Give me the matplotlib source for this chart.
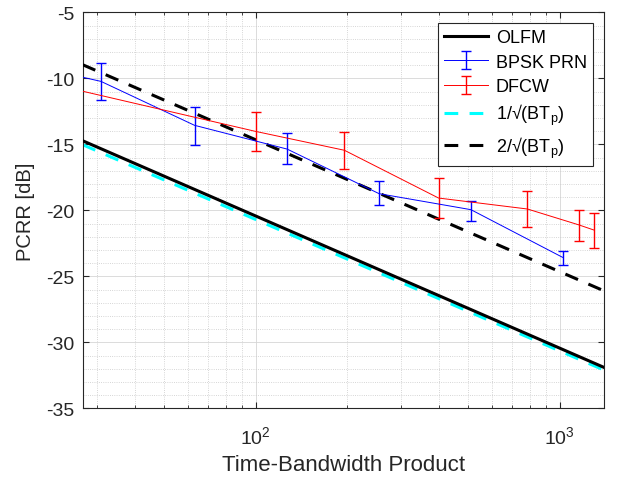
import numpy as np
import matplotlib.pyplot as plt
from matplotlib.ticker import MultipleLocator, LogLocator, NullFormatter

plt.rcParams['font.family'] = ['Liberation Sans', 'DejaVu Sans']
plt.rcParams['mathtext.fontset'] = 'custom'
plt.rcParams['mathtext.rm'] = 'Liberation Sans'
plt.rcParams['mathtext.it'] = 'Liberation Sans'
plt.rcParams['axes.unicode_minus'] = False

# Datos
bt_teo = [27, 1400]
olfm = [-14.73, -31.9]
teo_1 = [-15.03, -32.1]
teo_2 = [-8.97, -26.1]

bt_bpsk = [15, 31, 63, 127, 255, 511, 1023]
bpsk = [-8.6, -10.23, -13.56, -15.36, -18.74, -19.95, -23.56]
bpsk_sup = [-7.4, -8.86, -12.15, -14.17, -17.80, -19.32, -23.10]
bpsk_inf = [-9.8, -11.64, -15.08, -16.52, -19.60, -20.79, -24.14]

bt_dfcw = [25, 100, 196, 400, 784, 1156, 1296]
dfcw = [-10.80, -14.02, -15.45, -19.07, -19.90, -21.10, -21.49]
dfcw_sup = [-9.4, -12.58, -14.05, -17.58, -18.54, -19.95, -20.23]
dfcw_inf = [-12.2, -15.53, -16.89, -20.58, -21.24, -22.35, -22.83]

fig = plt.figure(figsize=(6.23, 4.81), dpi=100)
ax = fig.add_axes([0.1327, 0.149, 0.8368, 0.8233])

dash = (0, (4.5, 3.7))

h_olfm, = ax.plot(bt_teo, olfm, color='black', lw=2.2, label='OLFM', zorder=3)

bpsk = np.array(bpsk)
err_b = [bpsk - np.array(bpsk_inf), np.array(bpsk_sup) - bpsk]
h_bpsk = ax.errorbar(bt_bpsk, bpsk, yerr=err_b, color='blue', lw=0.7, elinewidth=1.0,
                     capsize=3.6, capthick=1.0, label='BPSK PRN', zorder=4)

dfcw = np.array(dfcw)
err_d = [dfcw - np.array(dfcw_inf), np.array(dfcw_sup) - dfcw]
h_dfcw = ax.errorbar(bt_dfcw, dfcw, yerr=err_d, color='red', lw=0.7, elinewidth=1.0,
                     capsize=3.6, capthick=1.0, label='DFCW', zorder=4)

h_t1, = ax.plot(bt_teo, teo_1, color='cyan', lw=2.2, ls=dash,
                label='1/√(BT$_\\mathrm{p}$)', zorder=2)
h_t2, = ax.plot(bt_teo, teo_2, color='black', lw=2.2, ls=dash,
                label='2/√(BT$_\\mathrm{p}$)', zorder=3)

ax.set_xscale('log')
ax.set_xlim(27, 1400)
ax.set_ylim(-35, -5)
ax.yaxis.set_major_locator(MultipleLocator(5))
ax.yaxis.set_minor_locator(MultipleLocator(1))
ax.xaxis.set_major_locator(LogLocator(base=10, numticks=10))
ax.xaxis.set_minor_locator(LogLocator(base=10, subs=np.arange(2, 10), numticks=20))
ax.xaxis.set_minor_formatter(NullFormatter())

ax.grid(True, which='major', color='#d6d6d6', lw=0.6, ls='-')
ax.grid(True, which='minor', color='#c8c8c8', lw=0.6, ls=':')
ax.set_axisbelow(True)

ax.tick_params(which='both', direction='in', top=True, right=True, labelsize=14,
               colors='#262626')
ax.tick_params(which='major', length=4, width=0.8)
ax.tick_params(axis='x', which='minor', length=2.5, width=0.6)
ax.tick_params(axis='y', which='minor', length=0)
ax.tick_params(axis='x', which='major', pad=12)
ax.tick_params(axis='y', which='major', pad=6)
for s in ax.spines.values():
    s.set_color('#262626')
    s.set_linewidth(0.8)

ax.set_xlabel('Time-Bandwidth Product', fontsize=16, color='#262626', labelpad=5)
ax.set_ylabel('PCRR [dB]', fontsize=14.5, color='#262626', labelpad=8)

handles = [h_olfm, h_bpsk, h_dfcw, h_t1, h_t2]
labels = [h.get_label() for h in handles]
leg = ax.legend(handles, labels, loc='upper right', fontsize=13, handlelength=2.4,
                framealpha=1, fancybox=False, edgecolor='#262626', borderaxespad=0.6,
                labelspacing=0.4, handletextpad=0.45, borderpad=0.35)
leg.get_frame().set_linewidth(0.8)

fig.savefig('out.png', dpi=100)
